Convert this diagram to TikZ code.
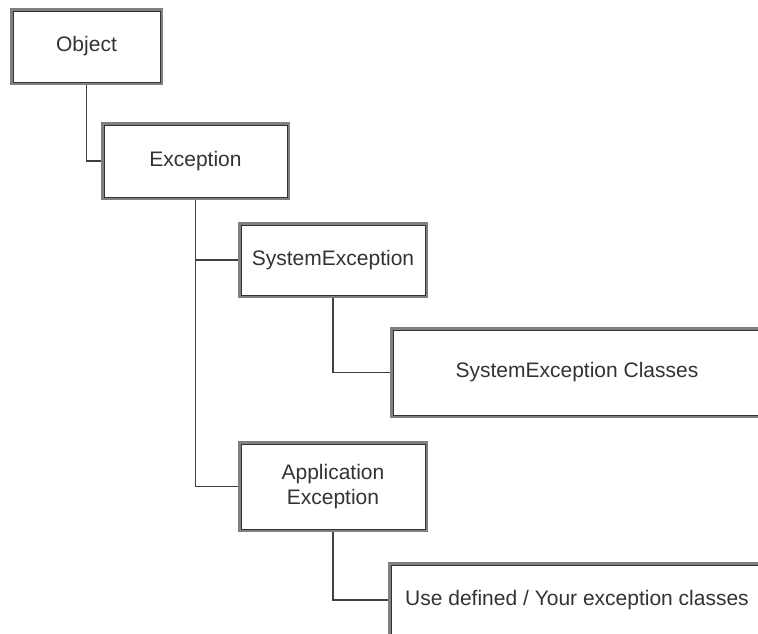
\documentclass[tikz,border=0pt]{standalone}
\usepackage{fontspec}
\setmainfont{Liberation Sans}
\begin{document}
\begin{tikzpicture}[x=1pt,y=-1pt,
  boxnode/.style={draw=black!50, line width=3pt, fill=white, inner sep=0pt,
    align=center, text=black!80, font=\fontsize{21}{25}\selectfont},
  innerline/.style={draw=black!80, line width=0.9pt},
  conn/.style={draw=black!75, line width=1.5pt}]
\useasboundingbox (0,0) rectangle (758,634);
\clip (0,0) rectangle (758,634);
\node[boxnode, minimum width=150pt, minimum height=74pt] (obj) at (86.5,46.5) {Object};
\node[boxnode, minimum width=186pt, minimum height=75pt] (exc) at (195.5,161) {Exception};
\node[boxnode, minimum width=187pt, minimum height=73pt] (sys) at (333,260) {SystemException};
\node[boxnode, minimum width=371pt, minimum height=88pt] (cls) at (577,372.5) {SystemException Classes};
\node[boxnode, minimum width=187pt, minimum height=88pt] (app) at (333,486.5) {Application\\Exception};
\node[boxnode, minimum width=375pt, minimum height=73pt] (use) at (577,600) {Use defined / Your exception classes};
\foreach \n in {obj,exc,sys,cls,app,use}{
  \draw[innerline] ([xshift=3pt,yshift=-3pt]\n.north west) rectangle ([xshift=-3pt,yshift=3pt]\n.south east);
}
\draw[conn] (obj.south) |- (exc.west);
\draw[conn] (exc.south) |- (app.west);
\draw[conn] (sys.west) -| (exc.south);
\draw[conn] (sys.south) |- (cls.west);
\draw[conn] (app.south) |- (use.west);
\end{tikzpicture}
\end{document}
